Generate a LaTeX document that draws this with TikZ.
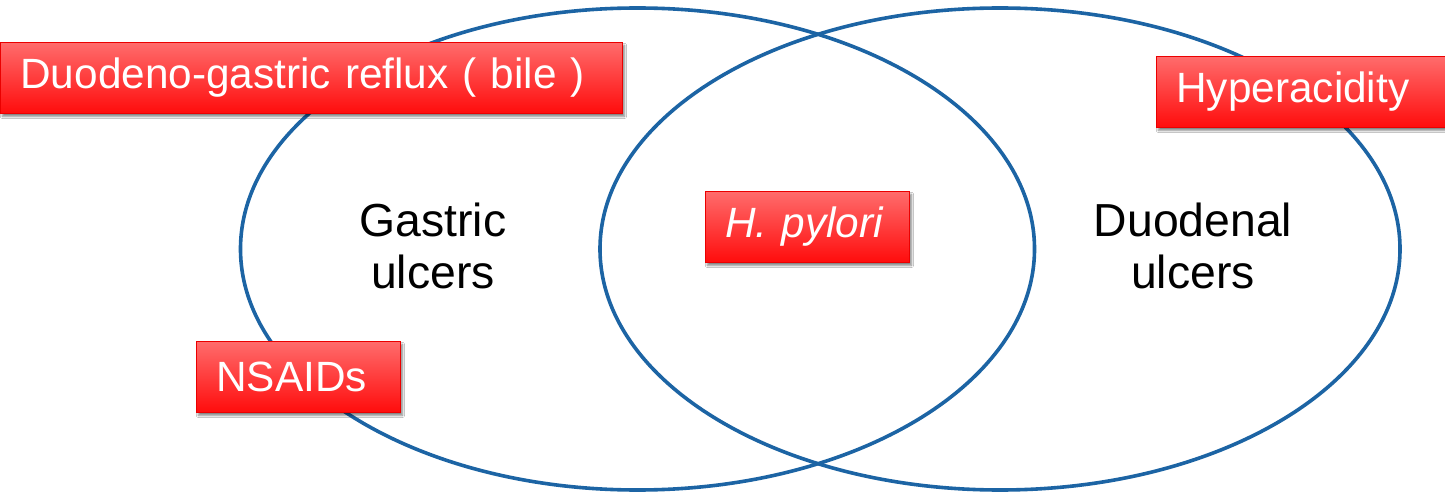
\documentclass[tikz,border=0pt]{standalone}
\usepackage{fontspec}
\setmainfont{Liberation Sans}
\usetikzlibrary{shadows.blur}
\definecolor{ellblue}{RGB}{28,100,164}
\definecolor{boxtop}{RGB}{255,108,108}
\definecolor{boxbot}{RGB}{255,12,12}
\definecolor{boxline}{RGB}{235,0,0}
\begin{document}
\begin{tikzpicture}[x=1bp,y=-1bp,
  ell/.style={draw=ellblue,line width=3.6bp},
  redbox/.style={rectangle,anchor=north west,draw=boxline,line width=0.8bp,
    top color=boxtop,bottom color=boxbot,text=white,
    inner xsep=20bp,inner ysep=0bp,align=left,minimum height=71bp,
    font=\fontsize{42.5}{50}\selectfont,
    blur shadow={shadow xshift=2bp,shadow yshift=-3bp,shadow blur steps=6,shadow opacity=50}},
  lbl/.style={align=center,font=\fontsize{46.5}{53}\selectfont,text=black}]
\useasboundingbox (0,0) rectangle (1445,492);
\fill[white] (0,0) rectangle (1445,492);
\draw[ell] (637.5,249) ellipse [x radius=397, y radius=241];
\draw[ell] (1000,249) ellipse [x radius=400, y radius=241];
\node[lbl] (gastric) at (433,246) {Gastric\\ulcers};
\node[lbl] (duodenal) at (1193,246) {Duodenal\\ulcers};
\node[redbox,text width=582bp] (reflux) at (0,42) {Duodeno-gastric reflux ( bile )};
\node[redbox,text width=164bp] (hpylori) at (705,191) {\itshape H. pylori};
\node[redbox,text width=164bp] (nsaids) at (196,341) {NSAIDs};
\node[redbox,text width=260bp] (hyper) at (1156,56) {Hyperacidity};
\end{tikzpicture}
\end{document}
